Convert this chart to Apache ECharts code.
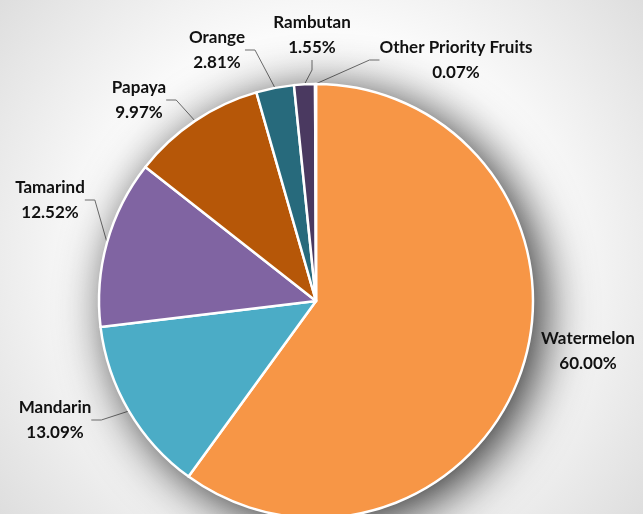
<!DOCTYPE html>
<html>
<head>
<meta charset="utf-8">
<script src="https://cdn.jsdelivr.net/npm/echarts@6/dist/echarts.min.js"></script>
<style>
  html, body { margin: 0; padding: 0; }
  #chart { width: 643px; height: 514px; }
</style>
</head>
<body>
<div id="chart"></div>
<script>
// Share of production by fruit (percent)
const fruits = ['Watermelon', 'Mandarin', 'Tamarind', 'Papaya', 'Orange', 'Rambutan', 'Other Priority Fruits'];
const shares = [60.00, 13.09, 12.52, 9.97, 2.81, 1.55, 0.07];
const sliceColors = ['#F79646', '#4BACC6', '#8064A2', '#B65708', '#276A7C', '#4A3960', '#9BBB59'];

// Where each two-line label sits (centre of the text block)
const labelSpots = [
  [588, 351], [55, 420], [50, 200], [139, 100], [217, 50], [312, 35], [456, 60]
];

const pieCenter = [316, 301];
const pieRadius = 217;

const chart = echarts.init(document.getElementById('chart'));

const total = shares.reduce((a, b) => a + b, 0);

chart.setOption({
  backgroundColor: {
    type: 'radial', x: 0.5, y: 0.5, r: 0.8,
    colorStops: [
      { offset: 0, color: '#ffffff' },
      { offset: 0.55, color: '#fbfbfb' },
      { offset: 1, color: '#dedede' }
    ]
  },
  animation: false,
  series: [
    {
      // soft drop shadow under the whole pie
      type: 'pie',
      silent: true,
      center: pieCenter,
      radius: pieRadius,
      startAngle: 90,
      label: { show: false },
      labelLine: { show: false },
      itemStyle: {
        color: '#ffffff',
        shadowColor: 'rgba(0,0,0,0.85)',
        shadowBlur: 50,
        shadowOffsetX: 10,
        shadowOffsetY: 8
      },
      data: [{ value: total, name: '' }]
    },
    {
      type: 'pie',
      center: pieCenter,
      radius: pieRadius,
      startAngle: 90,
      clockwise: true,
      avoidLabelOverlap: false,
      itemStyle: { borderColor: '#ffffff', borderWidth: 2.5 },
      label: {
        show: true,
        position: 'outside',
        fontFamily: 'Lato',
        fontWeight: 'bold',
        fontSize: 17,
        lineHeight: 25,
        color: '#111111',
        align: 'center',
        formatter: p => p.name + '\n' + p.value.toFixed(2) + '%'
      },
      labelLine: {
        show: true,
        length: 15,
        length2: 10,
        lineStyle: { color: '#6f6f6f', width: 1 }
      },
      labelLayout: p => {
        const spot = labelSpots[p.dataIndex];
        return { x: spot[0], y: spot[1], align: 'center', verticalAlign: 'middle' };
      },
      data: fruits.map((f, i) => ({
        name: f,
        value: shares[i],
        itemStyle: { color: sliceColors[i] },
        labelLine: { show: i !== 0 }
      }))
    }
  ]
});
</script>
</body>
</html>
